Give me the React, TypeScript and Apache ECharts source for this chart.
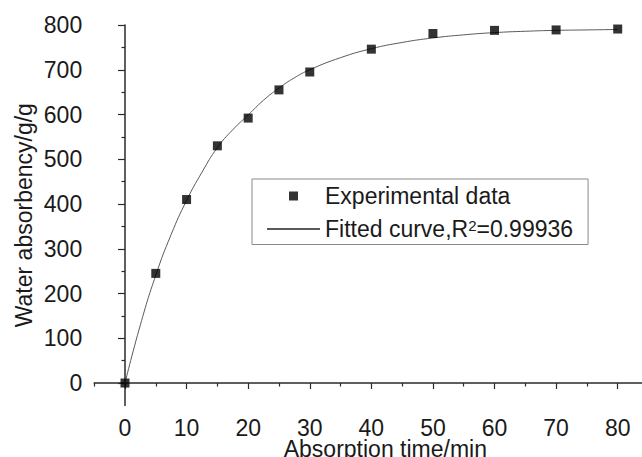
import React, { useEffect, useRef } from "react";
import * as echarts from "echarts";

// Experimental data
const timeMin = [0, 5, 10, 15, 20, 25, 30, 40, 50, 60, 70, 80];
const absorbency = [0, 245, 410, 530, 592, 655, 695, 746, 781, 788, 789, 791];

// Fitted curve
const fitTime = [0, 2.5, 5, 7.5, 10, 12.5, 15, 17.5, 20, 22.5, 25, 27.5, 30, 35, 40, 45, 50, 55, 60, 65, 70, 75, 80];
const fitValue = [0, 130, 241, 332, 408, 471, 526, 566, 599, 632, 659, 682, 700, 727, 747, 761, 771, 778, 783, 786, 788, 789, 790];

// Axis ticks and labels
const xLabels = [0, 10, 20, 30, 40, 50, 60, 70, 80];
const xMinorTicks = [-5, 5, 15, 25, 35, 45, 55, 65, 75, 85];
const yLabels = [0, 100, 200, 300, 400, 500, 600, 700, 800];
const yMinorTicks = [50, 150, 250, 350, 450, 550, 650, 750];

const seriesNames = ["Experimental data", "Fitted curve,R²=0.99936"];

const FONT = "'Liberation Sans', Arial, Helvetica, sans-serif";
const TEXT = "#1a1a1a";
const AXIS = "#2a2a2a";

export default function App() {
  const ref = useRef<HTMLDivElement>(null);

  useEffect(() => {
    if (!ref.current) return;
    const chart = echarts.init(ref.current, null, { renderer: "svg" });
    const gridRect = {
      left: 94.2,
      top: 25,
      right: -6.5,
      bottom: 51.6,
      containLabel: false,
      outerBoundsMode: "none",
    };
    const axisLine = { show: true, lineStyle: { color: AXIS, width: 1.5 } };
    chart.setOption({
      animation: false,
      backgroundColor: "#ffffff",
      textStyle: { fontFamily: FONT },
      grid: [{ ...gridRect }, { ...gridRect }],
      legend: {
        left: 252,
        top: 179,
        orient: "vertical",
        borderColor: "#8a8a8a",
        borderWidth: 1,
        backgroundColor: "#ffffff",
        padding: [5.5, 15, 4, 14],
        itemWidth: 53,
        itemHeight: 9,
        itemGap: 10,
        selectedMode: false,
        symbolKeepAspect: true,
        data: [
          { name: seriesNames[0], icon: "path://M0,0L10,0L10,10L0,10Z", itemStyle: { color: "#000000" } },
          { name: seriesNames[1], itemStyle: { color: "rgba(0,0,0,0)", borderWidth: 0, opacity: 0 } },
        ],
        formatter: (name: string) => name.replace("²", "{sup|2}"),
        textStyle: {
          fontSize: 23,
          lineHeight: 23,
          color: TEXT,
          fontFamily: FONT,
          rich: {
            sup: { fontSize: 15, lineHeight: 15, verticalAlign: "top", color: TEXT, fontFamily: FONT },
          },
        },
      },
      xAxis: [
        {
          type: "value",
          gridIndex: 0,
          min: -5,
          max: 85,
          position: "bottom",
          axisLine,
          splitLine: { show: false },
          axisTick: { show: true, customValues: xLabels, length: 6, lineStyle: { color: AXIS, width: 1.2 } },
          axisLabel: { customValues: xLabels, margin: 14, fontSize: 23, lineHeight: 17, color: TEXT, fontFamily: FONT },
          name: "Absorption time/min",
          nameLocation: "middle",
          nameGap: 35,
          nameMoveOverlap: false,
          nameTextStyle: { fontSize: 23, lineHeight: 17, color: TEXT, fontFamily: FONT, padding: [0, 0, 0, 28] },
        },
        {
          type: "value",
          gridIndex: 1,
          min: -5,
          max: 85,
          position: "bottom",
          axisLine: { show: false },
          splitLine: { show: false },
          axisLabel: { show: false },
          axisTick: { show: true, customValues: xMinorTicks, length: 3.5, lineStyle: { color: AXIS, width: 1.2 } },
        },
      ],
      yAxis: [
        {
          type: "value",
          gridIndex: 0,
          min: -50,
          max: 800,
          position: "left",
          axisLine,
          splitLine: { show: false },
          axisTick: { show: true, customValues: yLabels, length: 7, lineStyle: { color: AXIS, width: 1.2 } },
          axisLabel: { customValues: yLabels, margin: 12, fontSize: 23, color: TEXT, fontFamily: FONT },
          name: "Water absorbency/g/g",
          nameLocation: "middle",
          nameGap: 59,
          nameMoveOverlap: false,
          nameTextStyle: { fontSize: 23, color: TEXT, fontFamily: FONT },
        },
        {
          type: "value",
          gridIndex: 1,
          min: -50,
          max: 800,
          position: "left",
          axisLine: { show: false },
          splitLine: { show: false },
          axisLabel: { show: false },
          axisTick: { show: true, customValues: yMinorTicks, length: 3.5, lineStyle: { color: AXIS, width: 1.2 } },
        },
      ],
      series: [
        {
          name: seriesNames[1],
          type: "line",
          xAxisIndex: 0,
          yAxisIndex: 0,
          data: fitTime.map((t, i) => [t, fitValue[i]]),
          smooth: true,
          symbol: "none",
          lineStyle: { color: "#5a5a5a", width: 1 },
          itemStyle: { color: "#5a5a5a" },
          z: 2,
        },
        {
          name: seriesNames[0],
          type: "scatter",
          xAxisIndex: 0,
          yAxisIndex: 0,
          data: timeMin.map((t, i) => [t, absorbency[i]]),
          symbol: "rect",
          symbolSize: 9,
          itemStyle: { color: "#000000" },
          z: 3,
        },
        {
          type: "scatter",
          xAxisIndex: 1,
          yAxisIndex: 1,
          data: [],
          silent: true,
        },
      ],
    });
    return () => chart.dispose();
  }, []);

  return (
    <div
      ref={ref}
      style={{ position: "absolute", left: 0, top: 0, width: 642, height: 457 }}
    />
  );
}
